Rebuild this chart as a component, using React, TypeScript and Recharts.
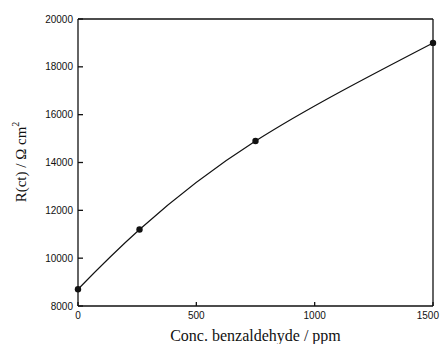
import { LineChart, Line, XAxis, YAxis, ReferenceLine } from 'recharts';

const conc = [0, 260, 750, 1500];
const rct = [8700, 11200, 14900, 19000];
const xTicks = [0, 500, 1000, 1500];
const yTicks = [8000, 10000, 12000, 14000, 16000, 18000, 20000];

const data = conc.map((c, i) => ({ conc: c, rct: rct[i] }));

const tickFont = 'Liberation Sans, Arial, sans-serif';
const tickStyle = { fontSize: 10, fill: '#111', fontFamily: tickFont };
const serif = 'Liberation Serif, Times New Roman, serif';

function XTick(props: any) {
  const { x, y, payload } = props;
  // last label sits on the window edge, keep it inside
  const last = payload.value === xTicks[xTicks.length - 1];
  return (
    <text
      x={last ? x + 6 : x}
      y={y}
      dy="0.71em"
      textAnchor={last ? 'end' : 'middle'}
      fontSize={10}
      fontFamily={tickFont}
      fill="#111"
    >
      {payload.value}
    </text>
  );
}

function YLabel() {
  return (
    <text
      x={21}
      y={162}
      transform="rotate(-90 21 162)"
      textAnchor="middle"
      dominantBaseline="central"
      fontFamily={serif}
      fontSize={15}
      fill="#111"
    >
      R(ct) / Ω cm<tspan dy={-6} fontSize={10}>2</tspan>
    </text>
  );
}

export default function App() {
  return (
    <div style={{ position: 'absolute', left: 0, top: 0, width: 440, height: 344, background: '#fff' }}>
      <LineChart width={440} height={344} data={data} margin={{ top: 19, right: 7, bottom: 0, left: 0 }}>
        <XAxis
          dataKey="conc"
          type="number"
          domain={[0, 1500]}
          ticks={xTicks}
          tick={<XTick />}
          tickSize={-4}
          tickMargin={10}
          height={38}
          stroke="#111"
          strokeWidth={1.3}
          interval={0}
          label={{ value: 'Conc. benzaldehyde / ppm', position: 'insideBottom', offset: 3, fontFamily: serif, fontSize: 16, fill: '#111' }}
        />
        <YAxis
          dataKey="rct"
          type="number"
          domain={[8000, 20000]}
          ticks={yTicks}
          tick={tickStyle}
          tickSize={-5}
          tickMargin={10}
          width={78}
          stroke="#111"
          strokeWidth={1.3}
          interval={0}
          label={<YLabel />}
        />
        <ReferenceLine y={20000} stroke="#111" strokeWidth={1.3} />
        <ReferenceLine x={1500} stroke="#111" strokeWidth={1.3} />
        <Line
          dataKey="rct"
          type="natural"
          stroke="#111"
          strokeWidth={1.2}
          dot={{ r: 3.2, fill: '#111', stroke: '#111', strokeWidth: 0 }}
          isAnimationActive={false}
        />
      </LineChart>
    </div>
  );
}
